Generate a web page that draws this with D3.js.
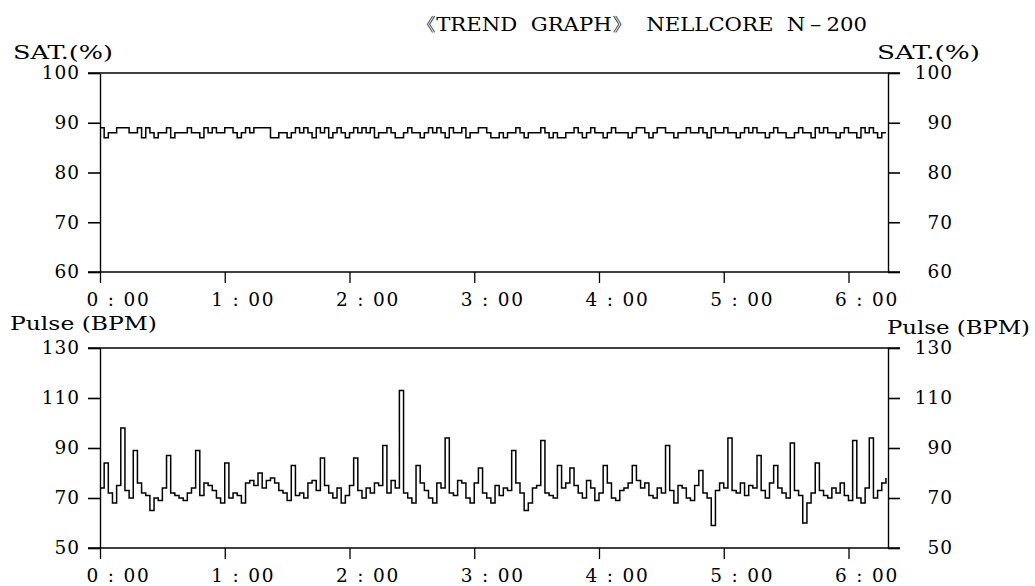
<!DOCTYPE html>
<html>
<head>
<meta charset="utf-8">
<script src="https://cdn.jsdelivr.net/npm/d3@7"></script>
<style>
  body { margin: 0; background: #fff; }
  svg text { font-family: "DejaVu Serif", "Liberation Serif", serif; fill: #000; }
</style>
</head>
<body>
<div id="chart"></div>
<script>
// Axis ticks
var satTicks = [60, 70, 80, 90, 100];
var pulseTicks = [50, 70, 90, 110, 130];
var hourTicks = [0, 60, 120, 180, 240, 300, 360];
var hourLabels = ["0 : 00", "1 : 00", "2 : 00", "3 : 00", "4 : 00", "5 : 00", "6 : 00"];

// one reading every 2 minutes
var sampleStep = 2;
var recordMinutes = 379;

var satValues = [
  89, 87, 88, 88, 89, 89, 89, 88, 88, 89,
  87, 89, 88, 87, 88, 88, 89, 87, 88, 88,
  88, 89, 88, 88, 87, 89, 88, 89, 88, 88,
  89, 89, 88, 87, 88, 89, 88, 89, 89, 89,
  89, 87, 87, 88, 88, 87, 88, 89, 88, 89,
  88, 87, 89, 88, 89, 87, 88, 89, 88, 87,
  88, 89, 88, 89, 88, 89, 87, 88, 88, 89,
  88, 87, 87, 88, 89, 88, 88, 87, 88, 89,
  88, 89, 88, 87, 89, 88, 88, 89, 87, 88,
  88, 89, 89, 88, 87, 87, 88, 87, 88, 88,
  89, 88, 87, 88, 88, 88, 89, 88, 87, 88,
  87, 87, 88, 88, 89, 88, 87, 88, 89, 88,
  88, 87, 88, 89, 88, 88, 88, 87, 88, 89,
  89, 88, 87, 88, 89, 89, 88, 88, 87, 88,
  88, 89, 88, 88, 89, 88, 87, 89, 88, 88,
  89, 88, 88, 87, 88, 89, 88, 89, 88, 88,
  87, 88, 89, 88, 88, 87, 87, 88, 89, 88,
  88, 87, 89, 88, 89, 88, 88, 87, 88, 89,
  88, 88, 87, 89, 88, 89, 88, 87, 88, 88
];

var pulseValues = [
  74, 84, 72, 68, 75, 98, 73, 70, 89, 76,
  72, 71, 65, 70, 69, 74, 87, 72, 71, 70,
  69, 72, 74, 89, 71, 76, 75, 73, 70, 68,
  84, 70, 72, 71, 68, 76, 77, 75, 80, 74,
  77, 78, 76, 73, 72, 69, 83, 71, 72, 70,
  76, 77, 73, 86, 75, 72, 70, 74, 68, 71,
  75, 86, 73, 70, 74, 72, 76, 75, 91, 72,
  77, 74, 113, 72, 70, 68, 83, 76, 73, 70,
  68, 76, 74, 94, 72, 71, 77, 76, 70, 68,
  76, 82, 72, 70, 68, 75, 71, 74, 73, 89,
  76, 72, 65, 68, 74, 75, 93, 72, 71, 70,
  83, 74, 76, 82, 75, 72, 70, 77, 74, 69,
  72, 83, 76, 70, 69, 73, 74, 76, 83, 77,
  74, 76, 71, 70, 74, 72, 91, 73, 68, 75,
  74, 70, 69, 75, 81, 72, 70, 59, 73, 76,
  74, 94, 73, 72, 76, 71, 75, 74, 87, 73,
  70, 76, 83, 74, 72, 70, 92, 73, 71, 60,
  68, 72, 84, 73, 71, 70, 74, 72, 76, 71,
  69, 93, 70, 68, 74, 94, 70, 73, 76, 78
];

var width = 1035, height = 586;

var svg = d3.select("#chart")
  .append("svg")
  .attr("width", width)
  .attr("height", height);

var xScale = d3.scaleLinear()
  .domain([0, recordMinutes])
  .range([100, 888]);

var ySat = d3.scaleLinear()
  .domain([60, 100])
  .range([272, 73]);

var yPulse = d3.scaleLinear()
  .domain([50, 130])
  .range([548, 348]);

// Title
svg.append("text")
  .attr("x", 415)
  .attr("y", 31)
  .attr("textLength", 452)
  .attr("lengthAdjust", "spacingAndGlyphs")
  .style("font-size", "19px")
  .style("white-space", "pre")
  .text("《TREND  GRAPH》  NELLCORE  N－200");

function drawPanel(yScale, ticks, values, unitLabel, labelY, labelYRight, labelW, labelWRight, labelXRight) {

  // frame lines top and bottom, running across the outer ticks
  svg.selectAll(null)
    .data([ticks[0], ticks[ticks.length - 1]])
    .enter()
    .append("line")
    .attr("x1", 88)
    .attr("x2", 900)
    .attr("y1", function(d) { return yScale(d); })
    .attr("y2", function(d) { return yScale(d); })
    .attr("stroke", "#000")
    .attr("stroke-width", 1.6);

  var leftAxis = d3.axisLeft(yScale)
    .tickValues(ticks)
    .tickSize(12)
    .tickSizeOuter(0)
    .tickPadding(8);

  var rightAxis = d3.axisRight(yScale)
    .tickValues(ticks)
    .tickSize(12)
    .tickSizeOuter(0)
    .tickPadding(8);

  var gl = svg.append("g")
    .attr("transform", "translate(" + xScale(0) + ",0)")
    .call(leftAxis);

  var gr = svg.append("g")
    .attr("transform", "translate(" + xScale(recordMinutes) + ",0)")
    .call(rightAxis);

  [gl, gr].forEach(function(g) {
    g.select(".domain").attr("stroke", "#000").attr("stroke-width", 1.4);
    g.selectAll(".tick line").attr("stroke", "#000").attr("stroke-width", 1.6);
    g.selectAll(".tick text")
      .attr("font-family", null)
      .style("font-size", "18.5px")
      .style("letter-spacing", "1px");
  });
  gr.selectAll(".tick text")
    .attr("text-anchor", "end")
    .attr("x", 65);

  var xAxis = d3.axisBottom(xScale)
    .tickValues(hourTicks)
    .tickSize(11)
    .tickSizeOuter(0)
    .tickFormat(function(d, i) { return hourLabels[i]; });

  var gx = svg.append("g")
    .attr("transform", "translate(0," + yScale(ticks[0]) + ")")
    .call(xAxis);
  gx.select(".domain").remove();
  gx.selectAll(".tick line").attr("stroke", "#000").attr("stroke-width", 1.3);
  gx.selectAll(".tick text")
    .attr("font-family", null)
    .attr("text-anchor", "start")
    .attr("x", -14)
    .attr("y", 34)
    .attr("dy", null)
    .style("font-size", "18.5px")
    .style("letter-spacing", "1.8px");

  // unit labels on both sides
  svg.append("text")
    .attr("x", unitLabel == "SAT.(%)" ? 13 : 10)
    .attr("y", labelY)
    .attr("textLength", labelW)
    .attr("lengthAdjust", "spacingAndGlyphs")
    .style("font-size", "18.5px")
    .text(unitLabel);

  svg.append("text")
    .attr("x", labelXRight)
    .attr("y", labelYRight)
    .attr("textLength", labelWRight)
    .attr("lengthAdjust", "spacingAndGlyphs")
    .style("font-size", "18.5px")
    .text(unitLabel);

  // trend trace
  var line = d3.line()
    .x(function(d, i) { return xScale(i * sampleStep); })
    .y(function(d) { return yScale(d); })
    .curve(d3.curveStepAfter);

  svg.append("path")
    .datum(values)
    .attr("fill", "none")
    .attr("stroke", "#000")
    .attr("stroke-width", 1.5)
    .attr("d", line);
}

drawPanel(ySat, satTicks, satValues, "SAT.(%)", 59, 59, 100, 103, 877);
drawPanel(yPulse, pulseTicks, pulseValues, "Pulse (BPM)", 330, 334, 147, 143, 887);
</script>
</body>
</html>
